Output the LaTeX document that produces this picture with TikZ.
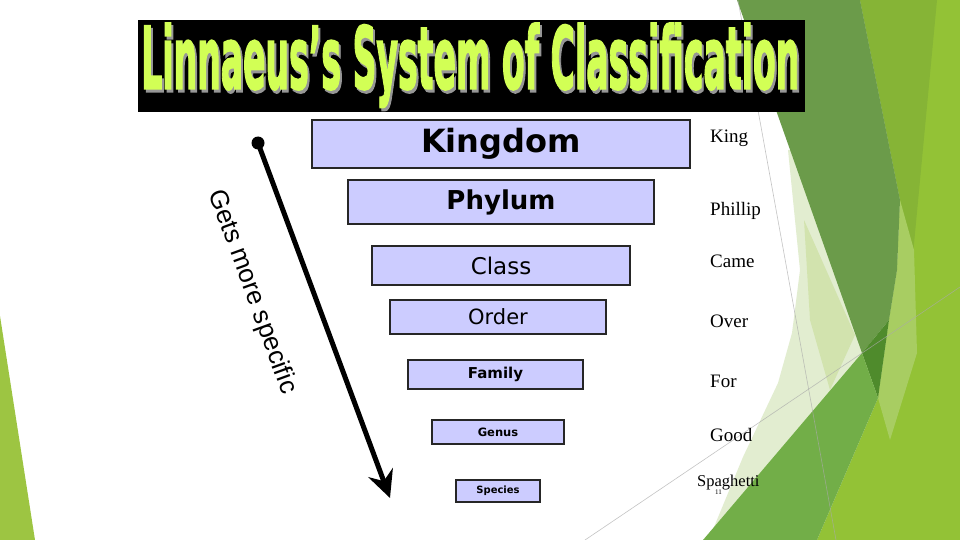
\documentclass[tikz,border=0pt]{standalone}
\usepackage{fontspec}
\usepackage{graphicx}
\setmainfont{Liberation Serif}
\newfontfamily\boxfont{DejaVu Sans}
\newfontfamily\titlefont{DejaVu Sans Bold}[FakeBold=2.5]
\newfontfamily\arialfont{Liberation Sans}
\usetikzlibrary{arrows.meta}
\definecolor{lav}{RGB}{204,204,255}
\definecolor{titlegreen}{RGB}{210,255,85}
\definecolor{titleshadow}{RGB}{150,150,150}
\definecolor{leftgreen}{RGB}{157,197,66}
\definecolor{paleA}{RGB}{226,237,208}
\definecolor{paleB}{RGB}{210,227,174}
\definecolor{rightgreen}{RGB}{147,194,54}
\definecolor{ygreen}{RGB}{134,180,54}
\definecolor{lband}{RGB}{168,205,98}
\definecolor{olive}{RGB}{107,155,74}
\definecolor{vdark}{RGB}{79,139,44}
\definecolor{mgreen}{RGB}{114,174,72}
\definecolor{thinline}{RGB}{170,170,170}
\newcommand{\titletext}{\titlefont Linnaeus’s System of Classification}
\begin{document}
\begin{tikzpicture}[x=1pt,y=-1pt,
  rankbox/.style={draw=black!85, line width=1.3pt, fill=lav, inner sep=0pt, outer sep=0pt},
  word/.style={anchor=base west, inner sep=0pt, font=\fontsize{19}{22}\selectfont},
  deco/.style={draw=thinline, line width=0.6pt}]
\useasboundingbox (0,0) rectangle (960,540);
\fill[white] (0,0) rectangle (960,540);
% background facets
\fill[leftgreen] (0,316) -- (35,540) -- (0,540) -- cycle;
\fill[paleA] (788,150) -- (845,150) -- (880,400) -- (714,527) -- (743,457) -- (778,383) -- (792,333) -- (800,270) -- cycle;
\fill[paleB] (804,220) -- (855,335) -- (830,390) -- (810,320) -- cycle;
\fill[rightgreen] (860,0) -- (960,0) -- (960,540) -- (817,540) -- (878,398) -- (889,320) -- (897,270) -- (900,200) -- cycle;
\fill[ygreen] (860,0) -- (937,0) -- (912,265) -- (900,200) -- cycle;
\fill[lband] (900,200) -- (914,250) -- (917,353) -- (890,440) -- (878,398) -- (889,320) -- (897,270) -- cycle;
\fill[olive] (737,0) -- (860,0) -- (900,200) -- (897,270) -- (889,320) -- (862,353) -- cycle;
\fill[vdark] (862,353) -- (889,320) -- (878,398) -- cycle;
\fill[mgreen] (703,540) -- (862,353) -- (878,398) -- (817,540) -- cycle;
\coordinate (la) at (738,0);
\coordinate (lb) at (836,540);
\coordinate (lc) at (585,540);
\coordinate (ld) at (960,287);
\draw[deco, opacity=0.7] (la) -- (lb);
\draw[deco, opacity=0.7] (lc) -- (ld);
% title
\node[fill=black, minimum width=667pt, minimum height=92pt, inner sep=0pt, anchor=north west] (titlebar) at (138,20) {};
\node[anchor=north west, inner sep=0pt, text=titleshadow] (tshadow) at (143,26) {\resizebox*{658pt}{84pt}{\titletext}};
\node[anchor=north west, inner sep=0pt, text=titlegreen] (title) at (141,23) {\resizebox*{658pt}{84pt}{\titletext}};
% rank boxes
\node[rankbox, minimum width=378pt, minimum height=48pt, font=\boxfont\bfseries\fontsize{32}{36}\selectfont] (kingdom) at (501,144) {Kingdom};
\node[rankbox, minimum width=306pt, minimum height=44pt, font=\boxfont\bfseries\fontsize{26}{30}\selectfont] (phylum) at (501,202) {Phylum};
\node[rankbox, minimum width=258pt, minimum height=39pt, font=\boxfont\fontsize{23}{27}\selectfont] (class) at (501,265.5) {Class};
\node[rankbox, minimum width=216pt, minimum height=34pt, font=\boxfont\fontsize{21}{25}\selectfont] (order) at (498,317) {Order};
\node[rankbox, minimum width=175pt, minimum height=29pt, font=\boxfont\bfseries\fontsize{15}{18}\selectfont] (family) at (495.5,374.5) {Family};
\node[rankbox, minimum width=132pt, minimum height=24pt, font=\boxfont\bfseries\fontsize{11.5}{14}\selectfont] (genus) at (498,432) {Genus};
\node[rankbox, minimum width=84pt, minimum height=22pt, font=\boxfont\bfseries\fontsize{10}{12}\selectfont] (species) at (498,491) {Species};
% mnemonic words
\node[word] (w1) at (710,143) {King};
\node[word] (w2) at (710,215) {Phillip};
\node[word] (w3) at (710,267) {Came};
\node[word] (w4) at (710,327) {Over};
\node[word] (w5) at (710,387) {For};
\node[word] (w6) at (710,441) {Good};
\node[word, font=\fontsize{16.5}{19}\selectfont] (w7) at (697,486) {Spaghetti};
\node[word, font=\fontsize{7}{8}\selectfont] (pagenum) at (715,494) {11};
% arrow
\node[circle, fill=black, inner sep=0pt, minimum size=13pt] (start) at (258,143) {};
\coordinate (tip) at (390,498);
\draw[line width=5pt, -{Stealth[length=27pt, width=26pt, inset=9pt]}] (start.center) -- (tip);
\node[rotate=-70, inner sep=0pt, font=\arialfont\fontsize{26}{30}\selectfont] (lbl) at (252,292) {Gets more specific};
\end{tikzpicture}
\end{document}
